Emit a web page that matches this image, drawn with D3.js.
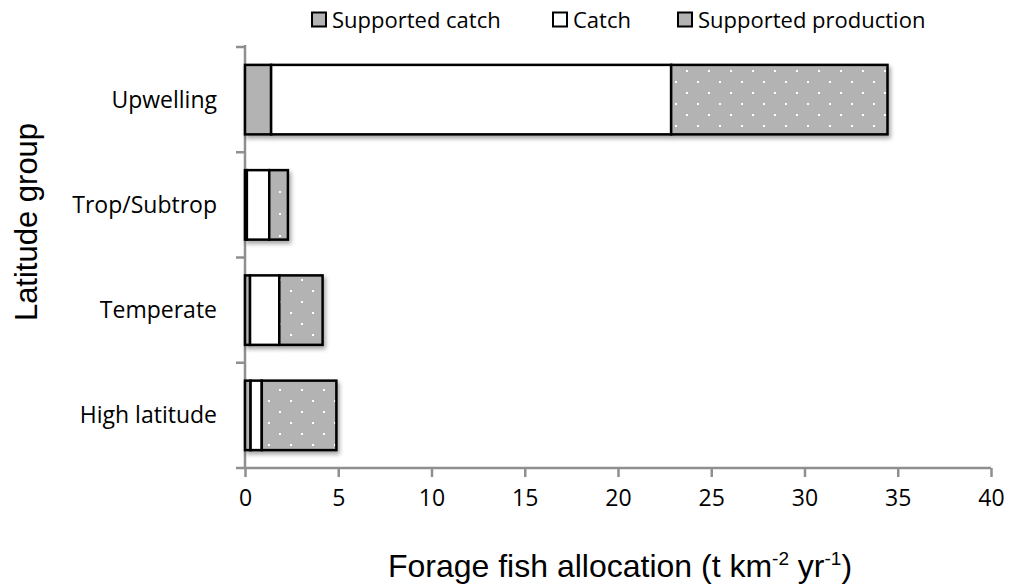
<!DOCTYPE html>
<html>
<head>
<meta charset="utf-8">
<script src="https://d3js.org/d3.v7.min.js"></script>
<style>
  body { margin: 0; background: #fff; }
  text { font-family: "Open Sans", "Noto Sans", sans-serif; }
</style>
</head>
<body>
<script>
// data
var categories = ["Upwelling", "Trop/Subtrop", "Temperate", "High latitude"];
var supportedCatch = [1.4, 0.1, 0.27, 0.3];
var catchValues = [21.45, 1.2, 1.57, 0.6];
var supportedProduction = [11.6, 1.0, 2.32, 4.0];
var seriesNames = ["Supported catch", "Catch", "Supported production"];
var xTicks = [0, 5, 10, 15, 20, 25, 30, 35, 40];

var width = 1011, height = 588;
var margin = { top: 47, right: 20, bottom: 120, left: 245 };

var svg = d3.select("body").append("svg")
    .attr("width", width)
    .attr("height", height);

var defs = svg.append("defs");

// dotted fill
var pat = defs.append("pattern")
    .attr("id", "dots")
    .attr("patternUnits", "userSpaceOnUse")
    .attr("width", 22).attr("height", 22);
pat.append("rect").attr("width", 22).attr("height", 22).attr("fill", "#b3b3b3");
pat.append("rect").attr("x", 4).attr("y", 4).attr("width", 2).attr("height", 2).attr("fill", "#fff");
pat.append("rect").attr("x", 15).attr("y", 15).attr("width", 2).attr("height", 2).attr("fill", "#fff");

var shadow = defs.append("filter").attr("id", "shadow")
    .attr("x", "-10%").attr("y", "-10%").attr("width", "130%").attr("height", "140%");
shadow.append("feDropShadow")
    .attr("dx", 2).attr("dy", 3).attr("stdDeviation", 2)
    .attr("flood-color", "#000").attr("flood-opacity", 0.35);

var x = d3.scaleLinear().domain([0, 40]).range([margin.left, 991]);
var y = d3.scaleBand().domain(categories).range([margin.top, height - margin.bottom]).paddingInner(0.34).paddingOuter(0.17);
var yOuter = d3.scaleBand().domain(categories).range([margin.top, height - margin.bottom]);

// stack the series
var rows = categories.map(function (c, i) {
    return { cat: c, sc: supportedCatch[i], c: catchValues[i], sp: supportedProduction[i] };
});
var stack = d3.stack().keys(["sc", "c", "sp"])(rows);
var fills = ["#b3b3b3", "#ffffff", "url(#dots)"];

// axes
var axisColor = "#8f8f8f";
var xAxis = svg.append("g")
    .attr("transform", "translate(0," + (height - margin.bottom) + ")")
    .call(d3.axisBottom(x).tickValues(xTicks).tickSize(9).tickSizeOuter(0).tickPadding(13));
xAxis.select(".domain").attr("stroke", axisColor).attr("stroke-width", 2.5)
    .attr("d", "M" + (margin.left - 9) + ",0H" + x(40));
xAxis.selectAll(".tick line").attr("stroke", axisColor).attr("stroke-width", 2.5);
xAxis.selectAll(".tick text").attr("font-size", 23).attr("fill", "#000")
    .style("font-family", "'Open Sans', sans-serif");

var yAxis = svg.append("g").attr("transform", "translate(" + margin.left + ",0)");
yAxis.append("line")
    .attr("x1", 0).attr("x2", 0)
    .attr("y1", margin.top - 2).attr("y2", height - margin.bottom)
    .attr("stroke", axisColor).attr("stroke-width", 2.5);
var bounds = categories.map(function (c) { return yOuter(c); });
yAxis.selectAll(".ytick").data(bounds).enter().append("line")
    .attr("x1", -9).attr("x2", 0)
    .attr("y1", function (d) { return d; }).attr("y2", function (d) { return d; })
    .attr("stroke", axisColor).attr("stroke-width", 2.5);
yAxis.selectAll(".ylab").data(categories).enter().append("text")
    .attr("x", -28)
    .attr("y", function (d) { return y(d) + y.bandwidth() / 2; })
    .attr("dy", "0.35em")
    .attr("text-anchor", "end")
    .attr("font-size", 23)
    .text(function (d) { return d; });

// bars
var layers = svg.append("g").attr("filter", "url(#shadow)");
stack.forEach(function (layer, k) {
    layers.selectAll(".bar" + k).data(layer).enter().append("rect")
        .attr("x", function (d) { return x(d[0]); })
        .attr("y", function (d) { return y(d.data.cat); })
        .attr("width", function (d) { return x(d[1]) - x(d[0]); })
        .attr("height", y.bandwidth())
        .attr("fill", fills[k])
        .attr("stroke", "#000")
        .attr("stroke-width", 2.5);
});

// legend
var legendX = [312, 553, 678];
var legend = svg.append("g");
seriesNames.forEach(function (name, i) {
    legend.append("rect")
        .attr("x", legendX[i]).attr("y", 12.5)
        .attr("width", 14).attr("height", 14)
        .attr("fill", i === 1 ? "#fff" : "#b3b3b3")
        .attr("stroke", "#000").attr("stroke-width", 2);
    legend.append("text")
        .attr("x", legendX[i] + 20).attr("y", 28)
        .attr("font-size", 22)
        .text(name);
});

// titles
svg.append("text")
    .attr("transform", "translate(37,222) rotate(-90)")
    .attr("text-anchor", "middle")
    .attr("font-size", 31)
    .style("font-family", "'Liberation Sans', Arial, sans-serif")
    .text("Latitude group");

var xt = svg.append("text")
    .attr("x", 620).attr("y", 577)
    .attr("text-anchor", "middle")
    .attr("font-size", 32)
    .style("font-family", "'Liberation Sans', Arial, sans-serif");
xt.append("tspan").text("Forage fish allocation (t km");
xt.append("tspan").attr("font-size", 19).attr("dy", -12).text("-2");
xt.append("tspan").attr("dy", 12).text(" yr");
xt.append("tspan").attr("font-size", 19).attr("dy", -12).text("-1");
xt.append("tspan").attr("dy", 12).text(")");
</script>
</body>
</html>
